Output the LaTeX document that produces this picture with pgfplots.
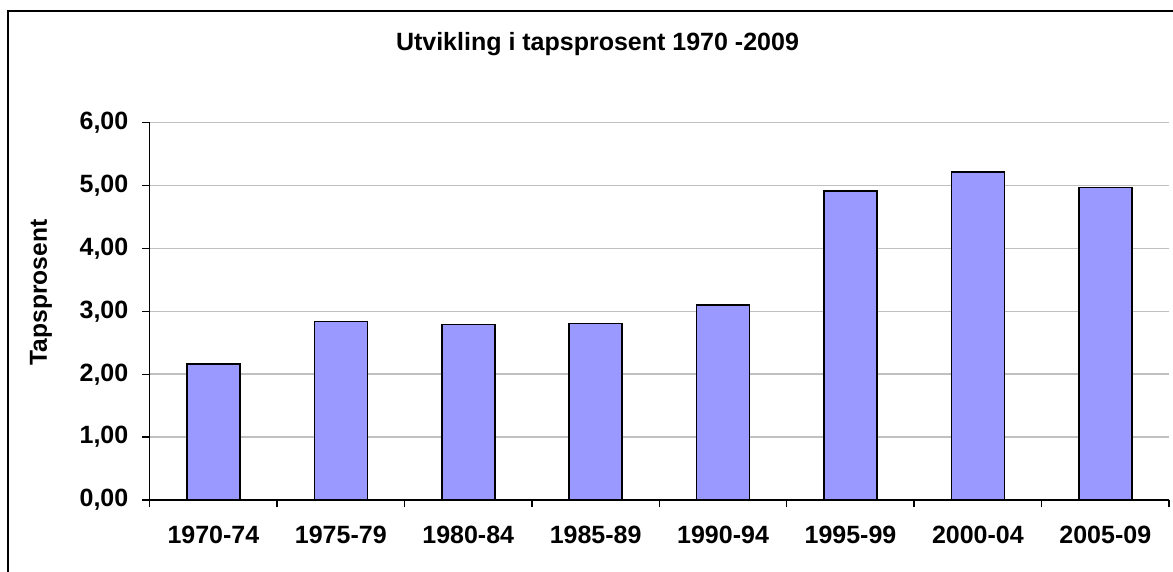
\documentclass[border=0pt]{standalone}
\usepackage{pgfplots}
\pgfplotsset{compat=1.18}
\usepackage{fontspec}
\setmainfont{Liberation Sans}
\definecolor{barfill}{HTML}{9999FF}
\definecolor{gridc}{HTML}{C0C0C0}
\begin{document}
\begin{tikzpicture}
\path[use as bounding box] (0,0) rectangle (586.5bp,286bp);
\clip (0,0) rectangle (586.5bp,286bp);
\draw[line width=0.8bp] (4bp,-10bp) -- (4bp,280.5bp) -- (600bp,280.5bp);
\begin{axis}[
  at={(74.85bp,36bp)}, anchor=south west,
  scale only axis, width=509.65bp, height=188.65bp,
  xmin=0.5, xmax=8.5, ymin=0, ymax=6,
  axis x line*=bottom, axis y line*=left,
  axis line style={line width=0.7bp, -},
  xtick={1,...,8},
  xticklabels={1970-74,1975-79,1980-84,1985-89,1990-94,1995-99,2000-04,2005-09},
  minor xtick={0.5,1.5,...,8.5},
  ytick={0,1,...,6},
  yticklabels={{0,00},{1,00},{2,00},{3,00},{4,00},{5,00},{6,00}},
  tick align=outside,
  major tick length=3.7bp,
  minor tick length=3.7bp,
  x tick style={draw=none},
  minor x tick style={draw=black, line width=0.7bp},
  y tick style={draw=black, line width=0.7bp},
  ymajorgrids, major grid style={gridc, line width=0.75bp},
  tick label style={font=\fontsize{12.5bp}{14bp}\selectfont\bfseries},
  xticklabel style={yshift=-6bp},
  yticklabel style={xshift=-3.5bp},
  ylabel={Tapsprosent},
  every axis y label/.style={at={(axis description cs:-0.1066,0.55)}, rotate=90, anchor=center, font=\fontsize{12.3bp}{14bp}\selectfont\bfseries},
  title={Utvikling i tapsprosent 1970 -2009},
  every axis title/.style={at={(axis description cs:0.4393,1.208)}, anchor=center, font=\fontsize{12.5bp}{14bp}\selectfont\bfseries},
]
\addplot[ybar, bar width=26.5bp, fill=barfill, draw=black, line width=0.8bp]
  coordinates {(1,2.16) (2,2.84) (3,2.79) (4,2.81) (5,3.10) (6,4.91) (7,5.22) (8,4.97)};
\end{axis}
\end{tikzpicture}
\end{document}
